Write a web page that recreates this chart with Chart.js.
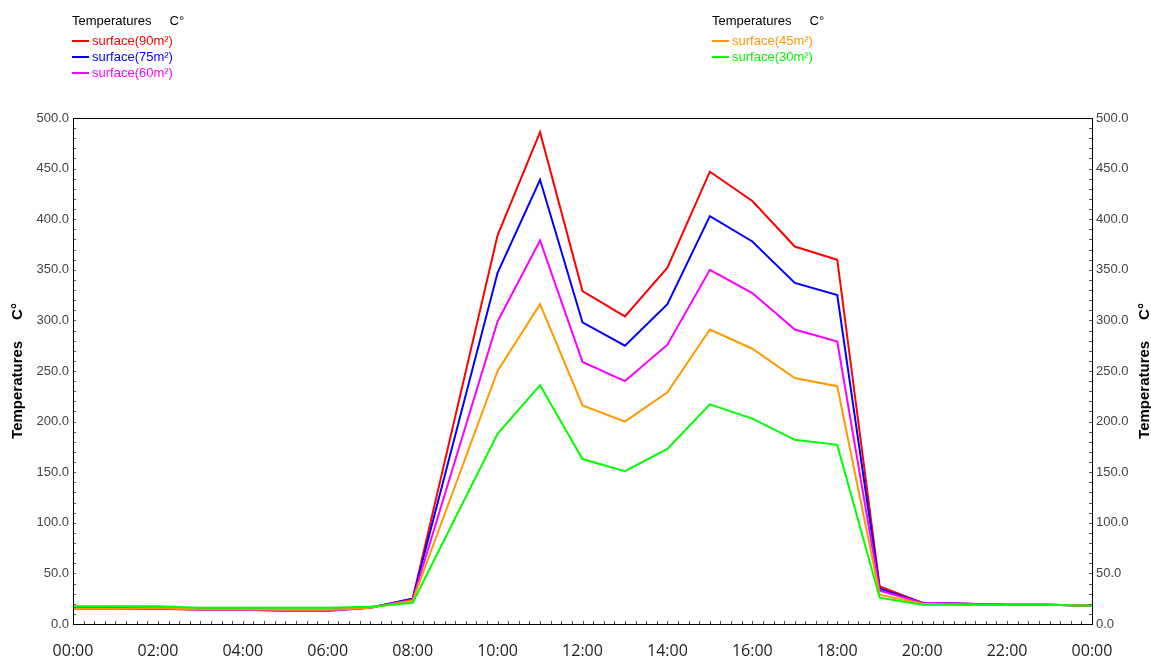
<!DOCTYPE html>
<html>
<head>
<meta charset="utf-8">
<script src="https://cdn.jsdelivr.net/npm/chart.js@4.4.1/dist/chart.umd.min.js"></script>
<style>
  body { margin: 0; background: #fff; }
  #wrap { position: relative; width: 1151px; height: 659px; }
  .legend { position: absolute; top: 13px; font-family: "Liberation Sans", Arial, sans-serif; font-size: 13px; line-height: 16px; }
  .legend .head { color: #000; margin-bottom: 4px; white-space: pre; }
  .legend .row { display: flex; align-items: center; }
  .legend .sw { width: 17px; height: 2px; margin-right: 3px; }
</style>
</head>
<body>
<div id="wrap">
  <canvas id="chart" width="1151" height="659"></canvas>
  <div class="legend" id="legLeft" style="left:72px"></div>
  <div class="legend" id="legRight" style="left:712px"></div>
</div>
<script>
// hours of the day, 0..24 (24 = next midnight)
const hours = [0,1,2,3,4,5,6,7,8,9,10,11,12,13,14,15,16,17,18,19,20,21,22,23,24];

// temperatures per surface (null = no reading)
const surface90 = [15,15,15,14,14,13,13,16,25,null,384,486,329,304,352,447,418,373,360,37,21,20,19,19,18];
const surface75 = [15.5,15.5,15,15,14.5,14,14,16,25,null,347,439,298,275,316,403,378,337,325,35,21,20,19,19,18];
const surface60 = [15.5,15.5,15.5,14,14,13,13,16,24,null,299,379,259,240,276,350,327,291,279,33,21,20,19,19,18];
const surface45 = [15,15,15.5,14.5,14.5,14,14,16,23,null,250,316,216,200,229,291,272,243,235,29,20,19,19,19,18];
const surface30 = [17.5,17.5,17.5,16,16,16,16,17,21,null,188,236,163,151,173,217,203,182,177,26,19,19,19,19,18];

const seriesNames = ['surface(90m²)','surface(75m²)','surface(60m²)','surface(45m²)','surface(30m²)'];
const seriesColors = ['#ff0000','#0000ff','#ff00ff','#ff9900','#00ff00'];
const seriesData = [surface90, surface75, surface60, surface45, surface30];
const axisTitle = 'Temperatures     C°';

// html legends, two blocks like the original
function buildLegend(el, idx) {
  let html = '<div class="head">' + axisTitle + '</div>';
  idx.forEach(i => {
    html += '<div class="row"><div class="sw" style="background:' + seriesColors[i] + '"></div>' +
            '<span style="color:' + seriesColors[i] + '">' + seriesNames[i] + '</span></div>';
  });
  el.innerHTML = html;
}
buildLegend(document.getElementById('legLeft'), [0,1,2]);
buildLegend(document.getElementById('legRight'), [3,4]);

const fmtHour = v => {
  const h = v % 24;
  return (h < 10 ? '0' : '') + h + ':00';
};

// frame, small inward ticks and the two axis titles (both read bottom to top)
const framePlugin = {
  id: 'frame',
  afterDraw(chart) {
    const ctx = chart.ctx;
    const a = chart.chartArea;
    const x = chart.scales.x, y = chart.scales.y;
    ctx.save();
    ctx.strokeStyle = '#555';
    ctx.lineWidth = 1;
    ctx.beginPath();
    for (let h = 0; h <= 24; h += 0.25) {
      const px = Math.round(x.getPixelForValue(h)) + 0.5;
      ctx.moveTo(px, a.bottom); ctx.lineTo(px, a.bottom - 3);
    }
    for (let v = 0; v <= 500; v += 10) {
      const py = Math.round(y.getPixelForValue(v)) + 0.5;
      ctx.moveTo(a.left, py); ctx.lineTo(a.left + 3, py);
      ctx.moveTo(a.right, py); ctx.lineTo(a.right - 3, py);
    }
    ctx.stroke();
    ctx.strokeStyle = '#000';
    ctx.strokeRect(Math.round(a.left) + 0.5, Math.round(a.top) + 0.5,
                   Math.round(a.right - a.left), Math.round(a.bottom - a.top));

    ctx.fillStyle = '#000';
    ctx.font = 'bold 15px "Liberation Sans"';
    ctx.textAlign = 'center';
    ctx.textBaseline = 'middle';
    const cy = (a.top + a.bottom) / 2;
    [18, 1145].forEach(cx => {
      ctx.save();
      ctx.translate(cx, cy);
      ctx.rotate(-Math.PI / 2);
      ctx.fillText(axisTitle, 0, 0);
      ctx.restore();
    });
    ctx.restore();
  }
};

const yTicks = {
  stepSize: 50,
  font: { family: 'Liberation Sans', size: 13 },
  color: '#444',
  padding: 4,
  callback: v => v.toFixed(1)
};

new Chart(document.getElementById('chart'), {
  type: 'line',
  data: {
    datasets: seriesData.map((arr, i) => ({
      label: seriesNames[i],
      data: arr.map((v, k) => ({ x: hours[k], y: v })),
      borderColor: seriesColors[i],
      backgroundColor: seriesColors[i],
      borderWidth: 2,
      pointRadius: 0,
      tension: 0,
      spanGaps: true,
      order: 4 - i
    }))
  },
  options: {
    responsive: false,
    animation: false,
    layout: { padding: { top: 118, left: 0, right: 0, bottom: 0 } },
    plugins: { legend: { display: false }, tooltip: { enabled: false } },
    scales: {
      x: {
        type: 'linear',
        min: 0, max: 24,
        grid: { display: false, drawTicks: false },
        border: { display: false },
        ticks: {
          stepSize: 2,
          font: { family: 'Open Sans', size: 16 },
          color: '#222',
          padding: 18,
          maxRotation: 0,
          callback: fmtHour
        },
        afterFit: s => { s.height = 35; }
      },
      y: {
        position: 'left',
        min: 0, max: 500,
        grid: { display: false, drawTicks: false },
        border: { display: false },
        ticks: yTicks,
        afterFit: s => { s.width = 73; }
      },
      y2: {
        position: 'right',
        min: 0, max: 500,
        grid: { display: false, drawTicks: false },
        border: { display: false },
        ticks: yTicks,
        afterFit: s => { s.width = 59; }
      }
    }
  },
  plugins: [framePlugin]
});
</script>
</body>
</html>
